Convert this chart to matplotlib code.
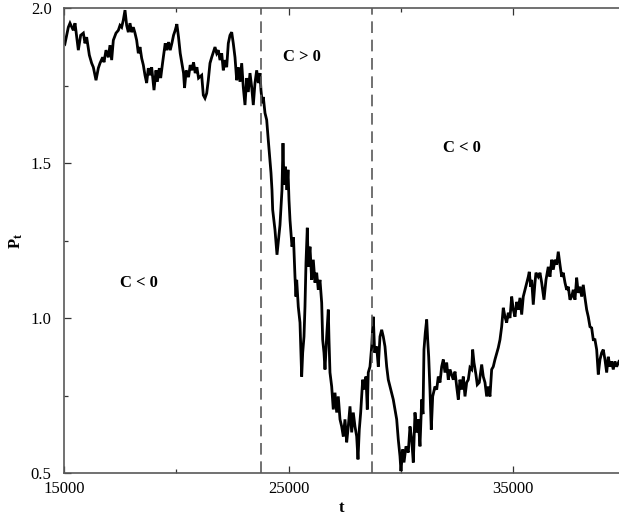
import matplotlib
matplotlib.use('Agg')
import matplotlib.pyplot as plt
from matplotlib.ticker import FixedLocator

plt.rcParams['font.family'] = ['Liberation Serif', 'DejaVu Serif']
plt.rcParams['mathtext.fontset'] = 'custom'
plt.rcParams['mathtext.rm'] = 'Liberation Serif'
plt.rcParams['mathtext.bf'] = 'Liberation Serif:bold'
plt.rcParams['mathtext.it'] = 'Liberation Serif:italic'

# ---- data ----
t_vals = [
    15000, 15045, 15193, 15267, 15415, 15490, 15564, 15638, 15742, 15861,
    15935, 16009, 16128, 16231, 16306, 16425, 16528, 16603, 16721, 16781,
    16870, 16974, 17048, 17122, 17196, 17315, 17419, 17493, 17567, 17641,
    17716, 17790, 17864, 17938, 18012, 18087, 18161, 18235, 18309, 18384,
    18458, 18532, 18606, 18680, 18754, 18829, 18903, 19007, 19096, 19155,
    19244, 19304, 19393, 19506, 19580, 19654, 19729, 19803, 19877, 19951,
    20025, 20099, 20174, 20248, 20322, 20367, 20442, 20545, 20619, 20693,
    20768, 20842, 20916, 20990,
    21130, 21202, 21277, 21353, 21424, 21500, 21576, 21647, 21723, 21798,
    21869, 21945, 22021, 22092, 22168, 22243, 22315, 22390, 22466, 22537,
    22613, 22689, 22760, 22836, 22911, 22982, 23058, 23134, 23205, 23281,
    23356, 23428, 23503, 23579, 23650, 23726, 23770, 23828, 23873, 23949,
    24024, 24095, 24171, 24216, 24260, 24291,
    24394, 24483, 24616, 24705, 24750, 24794, 24861, 24928, 24973, 25017,
    25062, 25151, 25217, 25284, 25329, 25360, 25431, 25507, 25551, 25582,
    25627, 25685, 25729, 25774, 25832, 25876, 25952, 26028, 26099, 26175,
    26250, 26321, 26397, 26473, 26517, 26575, 26620, 26695, 26767, 26798,
    26842, 26918, 26989, 27065, 27141, 27212, 27288, 27363, 27435, 27510,
    27586, 27657, 27733, 27808, 27880, 27955, 28031, 28089, 28147, 28209,
    28298, 28356, 28445, 28503, 28547, 28623, 28699, 28770, 28832, 28921,
    28993, 29068, 29144, 29215, 29291, 29367, 29438, 29514,
    29660, 29812, 29883, 29959, 30003, 30079, 30137, 30226, 30328, 30404,
    30480, 30551, 30627, 30702, 30773, 30849, 30925, 30983, 31027, 31085,
    31148, 31192, 31237, 31294, 31352, 31415, 31517, 31593, 31664, 31740,
    31815, 31887, 31962, 32038, 32109, 32185, 32332, 32408, 32483, 32555,
    32630, 32706, 32777, 32853, 32928, 33000, 33075, 33151, 33195, 33253,
    33342, 33400, 33489, 33596, 33667, 33743, 33818, 33890, 33965, 34041,
    34112, 34188, 34264, 34335,
    34411, 34486, 34558, 34633, 34709, 34780, 34856, 34932, 35003, 35079,
    35154, 35225, 35301, 35377, 35448, 35524, 35599, 35671, 35715, 35777,
    35822, 35893, 35969, 36013, 36116, 36192, 36267, 36370, 36459, 36561,
    36637, 36712, 36784, 36859, 36935, 37006, 37082, 37158, 37229, 37305,
    37380, 37451, 37527, 37603, 37674, 37750, 37825, 37896, 37972, 38048,
    38119, 38195, 38270, 38342, 38417, 38493, 38564, 38640, 38716, 38787,
    38863, 38938, 39009, 39085, 39161, 39232, 39308, 39383, 39454, 39530,
    39606, 39708,
]
p_vals = [
    1.890, 1.886, 1.938, 1.951, 1.928, 1.951, 1.906, 1.864, 1.912, 1.919,
    1.886, 1.906, 1.848, 1.822, 1.809, 1.767, 1.806, 1.822, 1.841, 1.825,
    1.864, 1.841, 1.880, 1.832, 1.896, 1.919, 1.928, 1.944, 1.938, 1.961,
    1.993, 1.944, 1.922, 1.951, 1.922, 1.938, 1.919, 1.896, 1.854, 1.874,
    1.838, 1.816, 1.783, 1.758, 1.806, 1.783, 1.809, 1.735, 1.799, 1.762,
    1.806, 1.774, 1.825, 1.886, 1.864, 1.890, 1.864, 1.886, 1.912, 1.928,
    1.948, 1.906, 1.854, 1.822, 1.790, 1.742, 1.799, 1.777, 1.816, 1.799,
    1.825, 1.790, 1.809, 1.774,
    1.783, 1.719, 1.709, 1.725, 1.767, 1.822, 1.841, 1.857, 1.874, 1.854,
    1.864, 1.832, 1.854, 1.799, 1.832, 1.809, 1.886, 1.912, 1.922, 1.886,
    1.841, 1.767, 1.809, 1.762, 1.822, 1.745, 1.687, 1.774, 1.729, 1.790,
    1.745, 1.687, 1.758, 1.799, 1.758, 1.790, 1.735, 1.693, 1.713, 1.661,
    1.639, 1.574, 1.510, 1.468, 1.413, 1.349,
    1.284, 1.204, 1.300, 1.413, 1.564, 1.430, 1.488, 1.413, 1.478, 1.381,
    1.316, 1.230, 1.260, 1.133, 1.069, 1.123, 1.036, 0.985, 0.888, 0.811,
    0.888, 0.940, 1.036, 1.178, 1.291, 1.165, 1.230, 1.123, 1.188, 1.114,
    1.146, 1.091, 1.123, 1.049, 0.930, 0.888, 0.834, 0.940, 1.027, 0.930,
    0.824, 0.779, 0.705, 0.759, 0.695, 0.747, 0.673, 0.650, 0.618, 0.673,
    0.599, 0.650, 0.715, 0.631, 0.695, 0.650, 0.618, 0.544, 0.640, 0.695,
    0.801, 0.769, 0.811, 0.705, 0.824, 0.843, 0.908, 1.004, 0.888, 0.908,
    0.843, 0.940, 0.962, 0.940, 0.908, 0.843, 0.801, 0.779,
    0.737, 0.673, 0.608, 0.554, 0.506, 0.576, 0.534, 0.586, 0.566, 0.650,
    0.608, 0.534, 0.695, 0.631, 0.673, 0.586, 0.737, 0.690, 0.898, 0.952,
    0.995, 0.930, 0.875, 0.769, 0.640, 0.747, 0.779, 0.769, 0.811, 0.792,
    0.843, 0.866, 0.824, 0.856, 0.801, 0.834, 0.801, 0.827, 0.779, 0.737,
    0.801, 0.769, 0.811, 0.747, 0.792, 0.801, 0.840, 0.834, 0.898, 0.856,
    0.817, 0.785, 0.792, 0.850, 0.811, 0.792, 0.747, 0.779, 0.747, 0.834,
    0.843, 0.866, 0.885, 0.904,
    0.930, 0.972, 1.033, 1.004, 0.985, 1.017, 1.000, 1.069, 1.027, 1.004,
    1.052, 1.027, 1.065, 1.011, 1.069, 1.091, 1.114, 1.133, 1.149, 1.101,
    1.123, 1.043, 1.114, 1.146, 1.133, 1.146, 1.114, 1.059, 1.123, 1.165,
    1.133, 1.188, 1.156, 1.188, 1.172, 1.214, 1.172, 1.133, 1.146, 1.114,
    1.091, 1.101, 1.059, 1.069, 1.091, 1.059, 1.130, 1.081, 1.101, 1.069,
    1.107, 1.065, 1.027, 1.004, 0.972, 0.968, 0.930, 0.930, 0.898, 0.818,
    0.866, 0.888, 0.898, 0.866, 0.824, 0.875, 0.843, 0.860, 0.834, 0.860,
    0.843, 0.860,
]
regime_bounds = [23770, 28713]
region_labels = ['C < 0', 'C > 0', 'C < 0']
region_label_x = [18340, 25580, 32710]
region_label_y = [1.114, 1.842, 1.547]
x_major = [15000, 25000, 35000]
x_minor = [20000, 30000]
y_major = [0.5, 1.0, 1.5, 2.0]
y_major_labels = ['0.5', '1.0', '1.5', '2.0']
y_minor = [0.75, 1.25, 1.75]

# ---- figure ----
W, H = 619, 516
fig = plt.figure(figsize=(W / 100, H / 100), dpi=100)
left, right, top, bottom = 64, 619, 8, 473
ax = fig.add_axes([left / W, 1 - bottom / H, (right - left) / W, (bottom - top) / H])

ax.plot(t_vals, p_vals, color='black', lw=2.0, solid_joinstyle='miter')
for b in regime_bounds:
    ax.axvline(b, color='0.35', lw=1.2, ls=(0, (7, 4)))

ax.set_xlim(15000, 39710)
ax.set_ylim(0.5, 2.0)
ax.set_xticks(x_major)
ax.set_xticklabels([str(v) for v in x_major])
ax.xaxis.set_minor_locator(FixedLocator(x_minor))
ax.set_yticks(y_major)
ax.set_yticklabels(y_major_labels)
ax.yaxis.set_minor_locator(FixedLocator(y_minor))
ax.tick_params(which='both', direction='in', top=True, right=False,
               color='0.2', width=0.9)
ax.tick_params(which='major', length=5, labelsize=12)
ax.tick_params(axis='y', which='major', pad=9)
ax.tick_params(axis='x', which='major', pad=6)
ax.tick_params(which='minor', length=3)
for s in ['left', 'bottom', 'top']:
    ax.spines[s].set_color('0.35')
    ax.spines[s].set_linewidth(1.2)
ax.spines['right'].set_visible(False)

ax.set_xlabel('t', fontsize=12, fontweight='bold', labelpad=2)
ax.set_ylabel(r'$\mathbf{P_t}$', fontsize=12, labelpad=4)

for lab, x, y in zip(region_labels, region_label_x, region_label_y):
    ax.text(x, y, lab, fontsize=12, fontweight='bold', ha='center', va='center')

fig.savefig('out.png', dpi=100)
